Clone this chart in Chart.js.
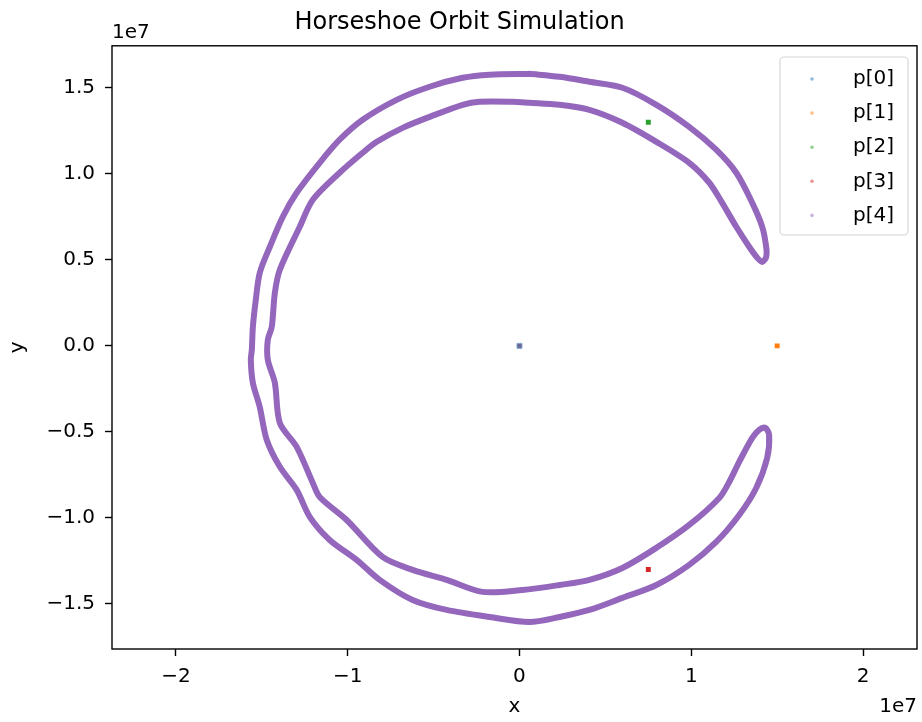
<!DOCTYPE html>
<html>
<head>
<meta charset="utf-8">
<script src="https://cdn.jsdelivr.net/npm/chart.js@4.4.1/dist/chart.umd.min.js"></script>
<style>
  html, body { margin: 0; padding: 0; background: #ffffff; }
  #wrap { width: 922px; height: 722px; }
</style>
</head>
<body>
<div id="wrap"><canvas id="c" width="922" height="722"></canvas></div>
<script>
// Body labels and colours
const seriesNames = ['p[0]', 'p[1]', 'p[2]', 'p[3]', 'p[4]'];
const seriesColors = ['#1f77b4', '#ff7f0e', '#2ca02c', '#d62728', '#9467bd'];

// Positions of the four point-like bodies p[0]..p[3]
const bodyX = [0, 1.5e7, 0.75e7, 0.75e7];
const bodyY = [0, 0, 1.3e7, -1.3e7];

// Track of p[4]: outer branch from the top round the left side to the lower tip,
// inner branch back to the upper tip, then the outer branch up to the start again
const orbitX = [
  0.058e7, -0.174e7, -0.331e7, -0.523e7, -0.715e7, -0.913e7, -1.047e7, -1.163e7, -1.297e7,
  -1.378e7, -1.453e7, -1.512e7, -1.535e7, -1.552e7, -1.558e7, -1.564e7, -1.552e7, -1.512e7, -1.471e7,
  -1.395e7, -1.297e7, -1.221e7, -1.105e7, -0.948e7, -0.814e7, -0.622e7, -0.424e7, -0.174e7, 0.058e7,
  0.233e7, 0.407e7, 0.599e7, 0.797e7, 0.988e7, 1.145e7, 1.279e7, 1.378e7, 1.442e7, 1.453e7,
  1.430e7, 1.395e7,
  1.355e7, 1.279e7, 1.221e7, 1.163e7, 0.988e7, 0.797e7, 0.599e7, 0.407e7, 0.233e7, 0.017e7,
  -0.215e7, -0.424e7, -0.622e7, -0.797e7, -1.006e7, -1.163e7, -1.203e7, -1.297e7, -1.395e7, -1.424e7,
  -1.465e7, -1.465e7, -1.442e7, -1.424e7, -1.395e7, -1.279e7, -1.203e7, -1.047e7, -0.913e7, -0.831e7,
  -0.680e7, -0.523e7, -0.331e7, -0.233e7, -0.041e7, 0.058e7, 0.233e7, 0.407e7, 0.599e7, 0.797e7,
  0.988e7, 1.105e7, 1.180e7, 1.262e7, 1.337e7, 1.384e7,
  1.413e7, 1.436e7, 1.436e7, 1.413e7, 1.355e7, 1.262e7, 1.145e7, 0.988e7, 0.797e7, 0.599e7, 0.407e7,
  0.233e7, 0.058e7
];
const orbitY = [
  1.581e7, 1.576e7, 1.558e7, 1.506e7, 1.430e7, 1.314e7, 1.198e7, 1.064e7, 0.890e7,
  0.750e7, 0.576e7, 0.424e7, 0.267e7, 0.110e7, -0.023e7, -0.081e7, -0.215e7, -0.355e7, -0.547e7,
  -0.703e7, -0.837e7, -0.994e7, -1.128e7, -1.244e7, -1.360e7, -1.477e7, -1.535e7, -1.576e7, -1.605e7,
  -1.576e7, -1.535e7, -1.465e7, -1.390e7, -1.273e7, -1.140e7, -0.983e7, -0.826e7, -0.651e7, -0.517e7,
  -0.476e7, -0.488e7,
  -0.535e7, -0.674e7, -0.791e7, -0.884e7, -1.041e7, -1.174e7, -1.291e7, -1.360e7, -1.390e7, -1.419e7,
  -1.430e7, -1.360e7, -1.302e7, -1.227e7, -1.012e7, -0.878e7, -0.797e7, -0.587e7, -0.448e7, -0.215e7,
  -0.081e7, 0.035e7, 0.110e7, 0.308e7, 0.442e7, 0.692e7, 0.849e7, 1.006e7, 1.122e7, 1.186e7,
  1.267e7, 1.331e7, 1.401e7, 1.419e7, 1.419e7, 1.413e7, 1.401e7, 1.372e7, 1.297e7, 1.186e7,
  1.064e7, 0.948e7, 0.831e7, 0.692e7, 0.576e7, 0.512e7,
  0.488e7, 0.517e7, 0.576e7, 0.692e7, 0.831e7, 1.006e7, 1.140e7, 1.273e7, 1.401e7, 1.500e7, 1.535e7,
  1.564e7, 1.581e7
];

// Axis ticks and limits
const xTicks = [-2e7, -1e7, 0, 1e7, 2e7];
const yTicks = [-1.5e7, -1.0e7, -0.5e7, 0, 0.5e7, 1.0e7, 1.5e7];
const xLimits = [-2.372e7, 2.314e7];
const yLimits = [-1.762e7, 1.744e7];

const FONT = "'DejaVu Sans', 'Liberation Sans', sans-serif";
const minus = s => s.replace('-', '\u2212');

const datasets = bodyX.map((x, i) => ({
  label: seriesNames[i],
  data: [{ x: x, y: bodyY[i] }],
  showLine: false,
  pointStyle: 'rect',
  pointRadius: 3.5,
  pointBackgroundColor: i === 0 ? '#6a6694' : seriesColors[i],
  pointBorderColor: i === 0 ? '#7fa6d0' : seriesColors[i],
  pointBorderWidth: i === 0 ? 1 : 0,
  order: 0
}));
datasets.push({
  label: seriesNames[4],
  data: orbitX.map((x, i) => ({ x: x, y: orbitY[i] })),
  showLine: true,
  borderColor: seriesColors[4],
  borderWidth: 6,
  tension: 0.3,
  borderJoinStyle: 'round',
  borderCapStyle: 'round',
  pointRadius: 0,
  fill: false,
  order: 1
});

// Frame, offset labels ("1e7") and legend box
const decorations = {
  id: 'decorations',
  afterDraw(chart) {
    const { ctx, chartArea: a } = chart;
    ctx.save();
    ctx.strokeStyle = '#000';
    ctx.lineWidth = 1.4;
    ctx.strokeRect(a.left, a.top, a.right - a.left, a.bottom - a.top);

    ctx.fillStyle = '#000';
    ctx.font = '20px ' + FONT;
    ctx.textBaseline = 'middle';
    ctx.textAlign = 'left';
    ctx.fillText('1e7', a.left, 32.5);
    ctx.textAlign = 'right';
    ctx.fillText('1e7', a.right, 707);

    // legend
    const lx = 780, ly = 57, lw = 128, lh = 178, r = 4;
    ctx.beginPath();
    ctx.moveTo(lx + r, ly);
    ctx.arcTo(lx + lw, ly, lx + lw, ly + lh, r);
    ctx.arcTo(lx + lw, ly + lh, lx, ly + lh, r);
    ctx.arcTo(lx, ly + lh, lx, ly, r);
    ctx.arcTo(lx, ly, lx + lw, ly, r);
    ctx.closePath();
    ctx.fillStyle = 'rgba(255,255,255,0.8)';
    ctx.fill();
    ctx.strokeStyle = '#d6d6d6';
    ctx.lineWidth = 1.2;
    ctx.stroke();

    seriesNames.forEach((name, i) => {
      const y = 79 + i * 34.1;
      ctx.globalAlpha = 0.5;
      ctx.fillStyle = seriesColors[i];
      ctx.beginPath();
      ctx.arc(812, y, 1.8, 0, Math.PI * 2);
      ctx.fill();
      ctx.globalAlpha = 1;
      ctx.fillStyle = '#000';
      ctx.textAlign = 'left';
      ctx.fillText(name, 853, y);
    });
    ctx.restore();
  }
};

new Chart(document.getElementById('c'), {
  type: 'scatter',
  data: { datasets },
  plugins: [decorations],
  options: {
    responsive: false,
    devicePixelRatio: 1,
    animation: false,
    layout: { padding: { left: 0, right: 3, top: 0, bottom: 0 } },
    plugins: {
      legend: { display: false },
      tooltip: { enabled: false },
      title: {
        display: true,
        text: 'Horseshoe Orbit Simulation',
        color: '#000',
        font: { family: FONT, size: 24, weight: 'normal', lineHeight: 1.2 },
        padding: { top: 8, bottom: 9 }
      }
    },
    scales: {
      x: {
        type: 'linear',
        position: 'bottom',
        min: xLimits[0],
        max: xLimits[1],
        afterBuildTicks: s => { s.ticks = xTicks.map(v => ({ value: v })); },
        afterFit: s => { s.height = 73; },
        border: { display: false },
        grid: { drawOnChartArea: false, drawTicks: true, tickLength: 7, tickColor: '#000', tickWidth: 1.4 },
        ticks: {
          color: '#000',
          font: { family: FONT, size: 20 },
          padding: 9,
          maxRotation: 0,
          callback: v => minus(String(Math.round(v / 1e7)))
        },
        title: {
          display: true,
          text: 'x',
          color: '#000',
          font: { family: FONT, size: 20 },
          padding: { top: 0, bottom: 3 }
        }
      },
      y: {
        type: 'linear',
        position: 'left',
        min: yLimits[0],
        max: yLimits[1],
        afterBuildTicks: s => { s.ticks = yTicks.map(v => ({ value: v })); },
        afterFit: s => { s.width = 112; },
        border: { display: false },
        grid: { drawOnChartArea: false, drawTicks: true, tickLength: 7, tickColor: '#000', tickWidth: 1.4 },
        ticks: {
          color: '#000',
          font: { family: FONT, size: 20 },
          padding: 10,
          callback: v => minus((v / 1e7).toFixed(1))
        },
        title: {
          display: true,
          text: 'y',
          color: '#000',
          font: { family: FONT, size: 20 },
          padding: { top: 6, bottom: 0 }
        }
      }
    }
  }
});
</script>
</body>
</html>
